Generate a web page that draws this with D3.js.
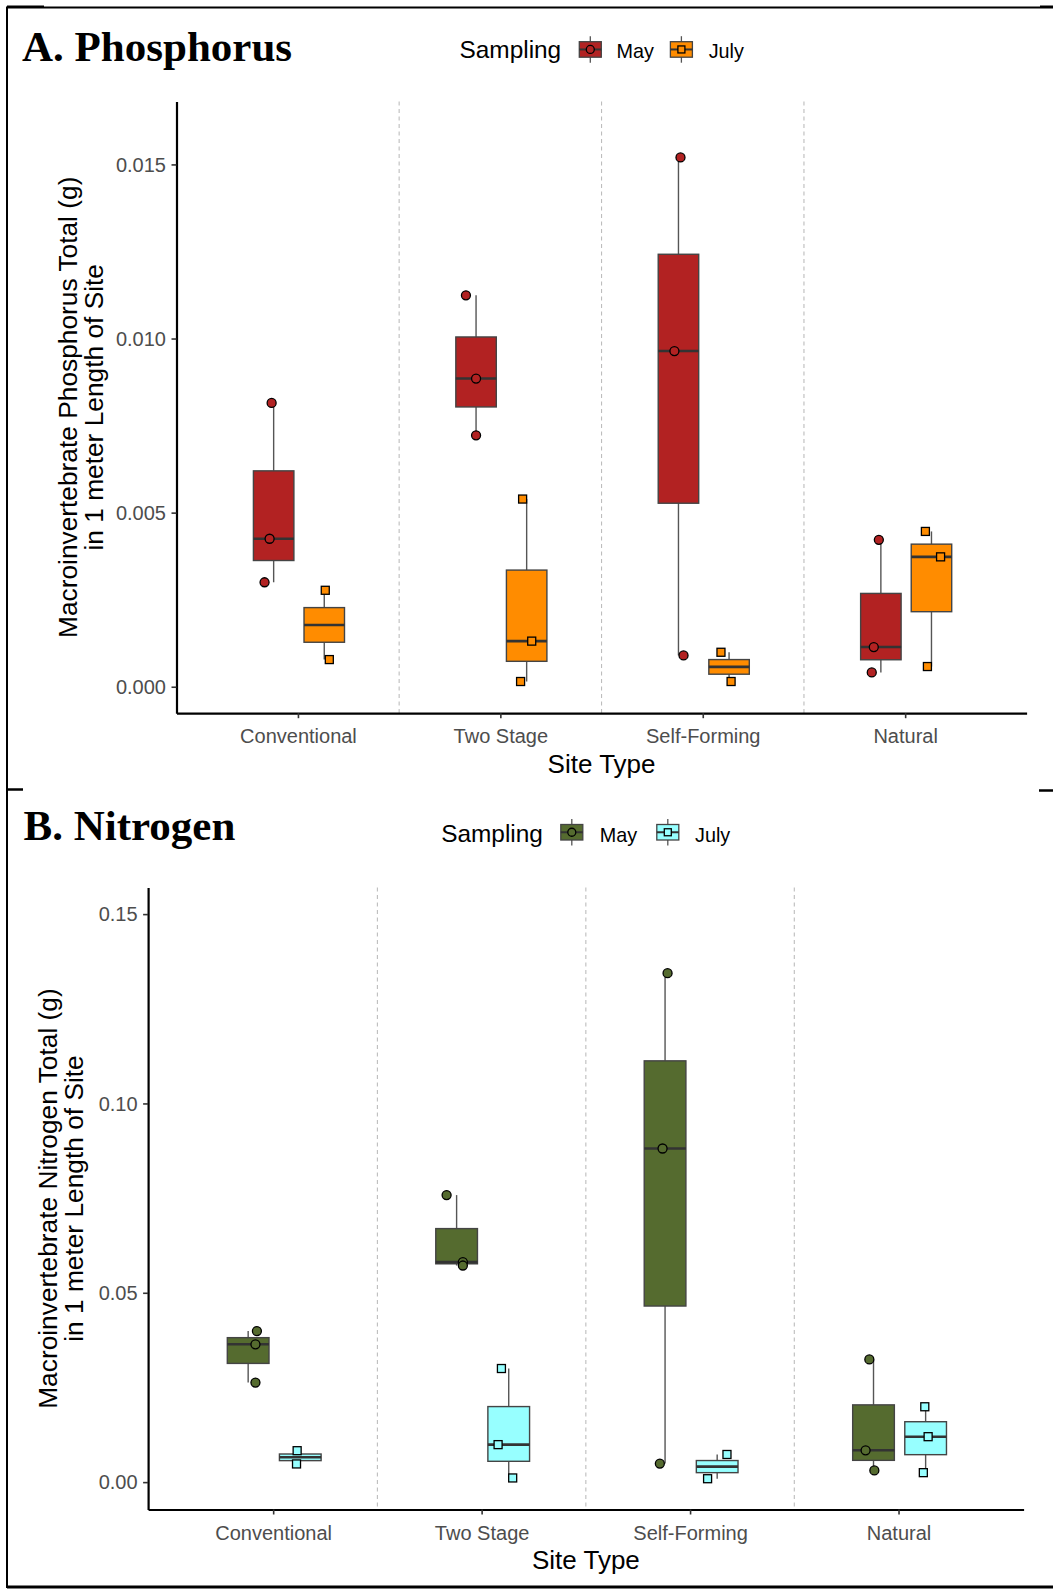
<!DOCTYPE html>
<html>
<head>
<meta charset="utf-8">
<script src="https://cdn.jsdelivr.net/npm/d3@7"></script>
<style>
  body { margin: 0; background: #fff; }
  svg { display: block; }
</style>
</head>
<body>
<div id="chart"></div>
<script>
const sites = ['Conventional', 'Two Stage', 'Self-Forming', 'Natural'];
const samplings = ['May', 'July'];

// Phosphorus total (g), one array of samples per site
const phosMay = [[0.00815, 0.00425, 0.0030], [0.01124, 0.00885, 0.00722], [0.0152, 0.00964, 0.0009], [0.00422, 0.00114, 0.00041]];
const phosJuly = [[0.00277, 0.00078], [0.00539, 0.00131, 0.00015], [0.00099, 0.00015], [0.00446, 0.00373, 0.00058]];
// horizontal jitter of each sample, in category units
const phosMayJitter = [[-0.01, -0.02, -0.045], [-0.05, 0, 0], [0.01, -0.02, 0.025], [-0.01, -0.035, -0.045]];
const phosJulyJitter = [[0.005, 0.025], [-0.02, 0.025, -0.03], [-0.04, 0.01], [-0.03, 0.045, -0.02]];

// Nitrogen total (g)
const nitroMay = [[0.0399, 0.0364, 0.0263], [0.0758, 0.0581, 0.0572], [0.1344, 0.0881, 0.0049], [0.0324, 0.0084, 0.0031]];
const nitroJuly = [[0.0083, 0.0048], [0.0300, 0.0099, 0.0011], [0.0073, 0.0009], [0.0199, 0.0120, 0.0025]];
const nitroMayJitter = [[0.042, 0.035, 0.035], [-0.048, 0.03, 0.03], [0.012, -0.012, -0.025], [-0.02, -0.038, 0.004]];
const nitroJulyJitter = [[-0.015, -0.018], [-0.035, -0.051, 0.019], [0.047, -0.046], [-0.004, 0.012, -0.011]];

const phosTicks = [0, 0.005, 0.010, 0.015];
const nitroTicks = [0, 0.05, 0.10, 0.15];

const W = 1053, H = 1590;
const fontSans = '"Liberation Sans", Arial, sans-serif';
const fontSerif = '"Liberation Serif", "Times New Roman", serif';

const panels = [
  {
    title: 'A. Phosphorus', titleX: 22, titleY: 61,
    yTitle: ['Macroinvertebrate Phosphorus Total (g)', 'in 1 meter Length of Site'],
    yTitleX: 77,
    values: [phosMay, phosJuly], jitter: [phosMayJitter, phosJulyJitter],
    colors: ['#B22222', '#FF8C00'],
    ticks: phosTicks, fmt: '.3f',
    yDomain: [-0.00076, 0.01681],
    left: 176.5, right: 1026.6, top: 101.4, bottom: 713.2,
    legendX: 459.5, legendY: 57.5, keyX: [579.3, 670.4], labelX: [616.6, 708.7], keyTop: 41.7
  },
  {
    title: 'B. Nitrogen', titleX: 23.5, titleY: 840,
    yTitle: ['Macroinvertebrate Nitrogen Total (g)', 'in 1 meter Length of Site'],
    yTitleX: 56.7,
    values: [nitroMay, nitroJuly], jitter: [nitroMayJitter, nitroJulyJitter],
    colors: ['#556B2F', '#97FFFF'],
    ticks: nitroTicks, fmt: '.2f',
    yDomain: [-0.00723, 0.157],
    left: 148.1, right: 1023.6, top: 887.6, bottom: 1509.5,
    legendX: 441.2, legendY: 841.5, keyX: [560.8, 656.8], labelX: [599.7, 695], keyTop: 824.5
  }
];

const dodge = [-0.12, 0.13];   // May / July offset from the site centre
const boxW = 0.2;

const svg = d3.select('#chart').append('svg')
  .attr('width', W).attr('height', H)
  .style('background', '#fff');

// frame lines around the two figures
const frame = svg.append('g').attr('stroke', '#000').attr('fill', 'none');
frame.append('line').attr('x1', 7).attr('y1', 7.5).attr('x2', W).attr('y2', 7.5).attr('stroke-width', 2);
frame.append('line').attr('x1', 7).attr('y1', 6.5).attr('x2', 44).attr('y2', 6.5).attr('stroke-width', 2);
frame.append('line').attr('x1', 1040).attr('y1', 6.5).attr('x2', W).attr('y2', 6.5).attr('stroke-width', 2);
frame.append('line').attr('x1', 7).attr('y1', 6.5).attr('x2', 7).attr('y2', 1588).attr('stroke-width', 2);
frame.append('line').attr('x1', 7).attr('y1', 789.5).attr('x2', 23).attr('y2', 789.5).attr('stroke-width', 2.5);
frame.append('line').attr('x1', 1039).attr('y1', 790.5).attr('x2', W).attr('y2', 790.5).attr('stroke-width', 2.5);
frame.append('line').attr('x1', 7).attr('y1', 1587).attr('x2', W).attr('y2', 1587).attr('stroke-width', 3);

function drawPoint(sel, shape, color, size) {
  if (shape === 'circle') {
    sel.append('circle').attr('r', size / 2);
  } else {
    sel.append('rect').attr('x', -size / 2 + 0.5).attr('y', -size / 2 + 0.5)
      .attr('width', size - 1).attr('height', size - 1);
  }
  sel.selectAll('circle, rect').attr('fill', color).attr('stroke', '#000').attr('stroke-width', 1.3);
}

function renderPanel(cfg) {
  const x = d3.scaleLinear().domain([0.4, sites.length + 0.6]).range([cfg.left, cfg.right]);
  const y = d3.scaleLinear().domain(cfg.yDomain).range([cfg.bottom, cfg.top]);
  const g = svg.append('g');

  // dashed separators between site types
  g.selectAll('line.sep').data(d3.range(1, sites.length)).join('line')
    .attr('class', 'sep')
    .attr('x1', d => x(d + 0.5)).attr('x2', d => x(d + 0.5))
    .attr('y1', cfg.top).attr('y2', cfg.bottom)
    .attr('stroke', '#BDBDBD').attr('stroke-width', 1.1)
    .attr('stroke-dasharray', '4,3.5');

  // box statistics for every site x sampling
  const groups = [];
  sites.forEach((s, i) => {
    samplings.forEach((m, j) => {
      const vals = cfg.values[j][i];
      const sorted = vals.slice().sort(d3.ascending);
      const q1 = d3.quantile(sorted, 0.25);
      const q3 = d3.quantile(sorted, 0.75);
      const iqr = q3 - q1;
      const inside = sorted.filter(v => v >= q1 - 1.5 * iqr && v <= q3 + 1.5 * iqr);
      groups.push({
        cx: i + 1 + dodge[j], j,
        q1, q3, med: d3.quantile(sorted, 0.5),
        lo: d3.min(inside), hi: d3.max(inside),
        points: vals.map((v, k) => ({ v, dx: cfg.jitter[j][i][k] }))
      });
    });
  });

  const boxes = g.selectAll('g.box').data(groups).join('g').attr('class', 'box');

  boxes.append('line')
    .attr('x1', d => x(d.cx)).attr('x2', d => x(d.cx))
    .attr('y1', d => y(d.hi)).attr('y2', d => y(d.q3))
    .attr('stroke', '#555').attr('stroke-width', 1.4);
  boxes.append('line')
    .attr('x1', d => x(d.cx)).attr('x2', d => x(d.cx))
    .attr('y1', d => y(d.q1)).attr('y2', d => y(d.lo))
    .attr('stroke', '#555').attr('stroke-width', 1.4);

  boxes.append('rect')
    .attr('x', d => x(d.cx - boxW / 2))
    .attr('width', d => x(d.cx + boxW / 2) - x(d.cx - boxW / 2))
    .attr('y', d => y(d.q3))
    .attr('height', d => y(d.q1) - y(d.q3))
    .attr('fill', d => cfg.colors[d.j])
    .attr('stroke', '#444').attr('stroke-width', 1.4);

  boxes.append('line')
    .attr('x1', d => x(d.cx - boxW / 2)).attr('x2', d => x(d.cx + boxW / 2))
    .attr('y1', d => y(d.med)).attr('y2', d => y(d.med))
    .attr('stroke', '#333').attr('stroke-width', 2.6);

  // sampled values
  groups.forEach(d => {
    d.points.forEach(p => {
      const pt = g.append('g').attr('transform', `translate(${x(d.cx + p.dx)},${y(p.v)})`);
      drawPoint(pt, d.j === 0 ? 'circle' : 'square', cfg.colors[d.j], 9);
    });
  });

  // axes
  const yAxis = d3.axisLeft(y).tickValues(cfg.ticks).tickFormat(d3.format(cfg.fmt))
    .tickSize(5).tickSizeOuter(0).tickPadding(5.5);
  const xAxis = d3.axisBottom(x).tickValues(d3.range(1, sites.length + 1))
    .tickFormat(d => sites[d - 1]).tickSize(5).tickSizeOuter(0).tickPadding(8);

  const ya = g.append('g').attr('transform', `translate(${cfg.left},0)`).call(yAxis);
  const xa = g.append('g').attr('transform', `translate(0,${cfg.bottom})`).call(xAxis);
  [ya, xa].forEach(a => {
    a.select('.domain').attr('stroke', '#000').attr('stroke-width', 2.2);
    a.selectAll('.tick line').attr('stroke', '#333').attr('stroke-width', 1.6);
    a.selectAll('.tick text').attr('fill', '#4D4D4D')
      .style('font-family', fontSans).style('font-size', '20px');
  });
  ya.selectAll('.tick text').attr('dy', '0.34em');
  xa.selectAll('.tick text').attr('dy', null).attr('y', 30);

  // axis titles
  g.append('text')
    .attr('x', (cfg.left + cfg.right) / 2).attr('y', cfg.bottom + 59.5)
    .attr('text-anchor', 'middle')
    .style('font-family', fontSans).style('font-size', '26px')
    .text('Site Type');

  const yt = g.append('text')
    .attr('transform', `translate(${cfg.yTitleX},${(cfg.top + cfg.bottom) / 2}) rotate(-90)`)
    .attr('text-anchor', 'middle')
    .style('font-family', fontSans).style('font-size', '26.3px');
  cfg.yTitle.forEach((line, k) => {
    yt.append('tspan').attr('x', 0).attr('y', k * 26).text(line);
  });

  // panel title
  g.append('text')
    .attr('x', cfg.titleX).attr('y', cfg.titleY)
    .style('font-family', fontSerif).style('font-weight', 'bold').style('font-size', '43px')
    .text(cfg.title);

  // legend
  const lg = g.append('g');
  lg.append('text')
    .attr('x', cfg.legendX).attr('y', cfg.legendY)
    .style('font-family', fontSans).style('font-size', '24.4px')
    .text('Sampling');
  samplings.forEach((m, j) => {
    const kx = cfg.keyX[j], kw = 22, kh = 15.5, kt = cfg.keyTop;
    lg.append('line')
      .attr('x1', kx + kw / 2).attr('x2', kx + kw / 2)
      .attr('y1', kt - 5.5).attr('y2', kt + kh + 5.5)
      .attr('stroke', '#555').attr('stroke-width', 1.3);
    lg.append('rect')
      .attr('x', kx).attr('y', kt).attr('width', kw).attr('height', kh)
      .attr('fill', cfg.colors[j]).attr('stroke', '#444').attr('stroke-width', 1.3);
    lg.append('line')
      .attr('x1', kx).attr('x2', kx + kw)
      .attr('y1', kt + kh / 2).attr('y2', kt + kh / 2)
      .attr('stroke', '#333').attr('stroke-width', 2);
    const kp = lg.append('g').attr('transform', `translate(${kx + kw / 2},${kt + kh / 2})`);
    drawPoint(kp, j === 0 ? 'circle' : 'square', cfg.colors[j], 8);
    lg.append('text')
      .attr('x', cfg.labelX[j]).attr('y', cfg.legendY)
      .style('font-family', fontSans).style('font-size', '19.8px')
      .text(m);
  });
}

panels.forEach(renderPanel);
</script>
</body>
</html>
